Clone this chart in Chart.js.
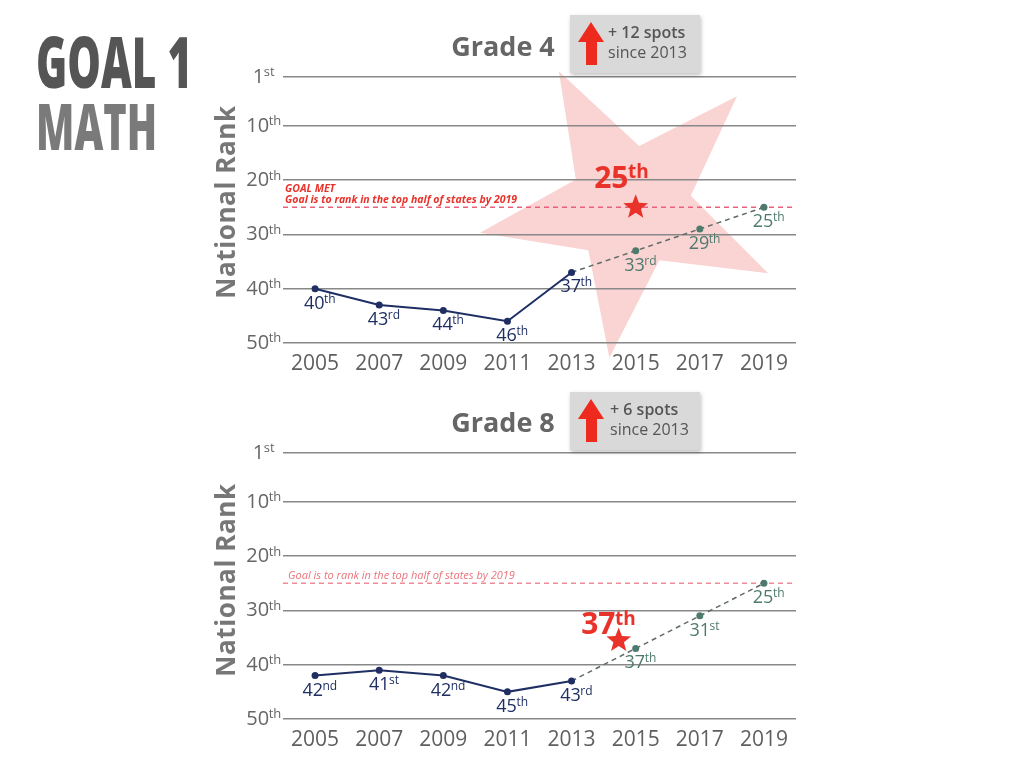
<!DOCTYPE html>
<html>
<head>
<meta charset="utf-8">
<script src="https://cdn.jsdelivr.net/npm/chart.js@4.4.1/dist/chart.umd.min.js"></script>
<style>
  body { margin: 0; background: #fff; font-family: "Open Sans", sans-serif; }
  #page { position: relative; width: 1024px; height: 768px; overflow: hidden; }
  canvas { position: absolute; left: 0; }
  .title { position: absolute; left: 36px; font-weight: 800; line-height: 1; white-space: nowrap; transform-origin: left top; display: inline-block; }
  .rank { position: absolute; width: 240px; text-align: center; font-weight: 700; font-size: 26px; color: #777; letter-spacing: 0.6px; transform: rotate(-90deg); line-height: 36px; }
  .grade { position: absolute; width: 160px; text-align: center; font-weight: 700; font-size: 27px; color: #666; line-height: 1; }
  .box { position: absolute; left: 570px; width: 130px; height: 58px; background: #d9d9d9; box-shadow: 1px 2px 4px rgba(0,0,0,0.25); }
  .box svg { position: absolute; left: 7px; top: 6px; }
  .box .l1 { position: absolute; left: 38px; top: 9px; font-size: 16px; font-weight: 600; color: #555; line-height: 1; white-space: nowrap; }
  .box .l2 { position: absolute; left: 38px; top: 29px; font-size: 16px; color: #555; line-height: 1; white-space: nowrap; }
</style>
</head>
<body>
<div id="page">
  <canvas id="grade4" width="1024" height="384" style="top:0"></canvas>
  <canvas id="grade8" width="1024" height="384" style="top:376px"></canvas>

  <div class="title" id="goal" style="top:26px;font-size:70px;color:#555">GOAL 1</div>
  <div class="title" id="math" style="top:94px;font-size:63px;color:#7a7a7a">MATH</div>

  <div class="rank" style="left:105px;top:184px">National Rank</div>
  <div class="rank" style="left:105px;top:562px">National Rank</div>

  <div class="grade" style="left:423px;top:32px">Grade 4</div>
  <div class="box" style="top:15px">
    <svg width="30" height="46"><polygon points="1,21 14,1 27,21 20,21 20,44 9,44 9,21" fill="#ee2a1f"/></svg>
    <div class="l1">+ 12 spots</div>
    <div class="l2">since 2013</div>
  </div>

  <div class="grade" style="left:423px;top:408px">Grade 8</div>
  <div class="box" style="top:392px">
    <svg width="30" height="46"><polygon points="1,21 14,1 27,21 20,21 20,44 9,44 9,21" fill="#ee2a1f"/></svg>
    <div class="l1" style="left:40px">+ 6 spots</div>
    <div class="l2" style="left:40px">since 2013</div>
  </div>
</div>

<script>
// chart values
const years = ["2005", "2007", "2009", "2011", "2013", "2015", "2017", "2019"];
const rankTicks = [1, 10, 20, 30, 40, 50];
const goalRank = 25;
const goalText = "Goal is to rank in the top half of states by 2019";

const grade4Actual = [40, 43, 44, 46, 37, null, null, null];
const grade4Recent = [null, null, null, null, 37, 33, 29, 25];
const grade4Highlight = { year: "2015", rank: 25 };

const grade8Actual = [42, 41, 42, 45, 43, null, null, null];
const grade8Recent = [null, null, null, null, 43, 37, 31, 25];
const grade8Highlight = { year: "2015", rank: 37 };

const NAVY = "#1f2f63";
const TEAL = "#4e7a6d";
const RED = "#e8322a";

// squeeze the big title words to their width
const fitWidth = (id, w) => {
  const el = document.getElementById(id);
  el.style.transform = "scaleX(" + (w / el.offsetWidth) + ")";
};
fitWidth("goal", 156);
fitWidth("math", 121);

const suffix = n => {
  const m = n % 100;
  if (m >= 11 && m <= 13) return "th";
  return { 1: "st", 2: "nd", 3: "rd" }[n % 10] || "th";
};

// number with a raised ordinal suffix, centred on x
const drawOrdinal = (ctx, n, x, y, size, color, weight) => {
  const num = String(n), suf = suffix(n);
  const small = Math.round(size * 0.64);
  ctx.font = weight + " " + size + "px 'Open Sans'";
  const w1 = ctx.measureText(num).width;
  ctx.font = weight + " " + small + "px 'Open Sans'";
  const w2 = ctx.measureText(suf).width;
  const x0 = x - (w1 + w2) / 2;
  ctx.fillStyle = color;
  ctx.textAlign = "left";
  ctx.textBaseline = "alphabetic";
  ctx.font = weight + " " + size + "px 'Open Sans'";
  ctx.fillText(num, x0, y);
  ctx.font = weight + " " + small + "px 'Open Sans'";
  ctx.fillText(suf, x0 + w1 - 0.5, y - size * 0.33);
};

const starPath = (ctx, cx, cy, R, r, startDeg) => {
  ctx.beginPath();
  for (let i = 0; i < 10; i++) {
    const a = (startDeg + i * 36) * Math.PI / 180;
    const rad = i % 2 ? r : R;
    ctx.lineTo(cx + rad * Math.cos(a), cy + rad * Math.sin(a));
  }
  ctx.closePath();
};

const panelPlugin = opt => ({
  id: "panel",
  beforeDraw(chart) {
    if (!opt.bigStar) return;
    const { ctx, scales: { x, y } } = chart;
    const px = x.getPixelForValue(years.indexOf(opt.highlight.year));
    const py = y.getPixelForValue(opt.highlight.rank);
    ctx.save();
    starPath(ctx, px - 5, py - 1, 153, 61, -118);
    ctx.fillStyle = "#fad3d3";
    ctx.fill();
    ctx.restore();
  },
  beforeDatasetsDraw(chart) {
    const { ctx, chartArea, scales: { y } } = chart;
    // rank tick labels
    rankTicks.forEach(v => {
      drawOrdinal(ctx, v, 264, y.getPixelForValue(v) + 6, 20, "#666", 400);
    });
    // goal line
    const gy = y.getPixelForValue(goalRank);
    ctx.save();
    ctx.strokeStyle = opt.goalColor;
    ctx.lineWidth = 1.5;
    ctx.setLineDash([5, 4]);
    ctx.beginPath();
    ctx.moveTo(chartArea.left, gy);
    ctx.lineTo(chartArea.right, gy);
    ctx.stroke();
    ctx.restore();
    ctx.fillStyle = opt.textColor;
    ctx.font = opt.textFont;
    ctx.textAlign = "left";
    ctx.textBaseline = "alphabetic";
    opt.lines.forEach((t, i) => {
      ctx.fillText(t, opt.textX, gy - 4 - (opt.lines.length - 1 - i) * 11);
    });
  },
  afterDatasetsDraw(chart) {
    const { ctx, scales: { x, y } } = chart;
    chart.data.datasets.forEach((ds, di) => {
      const meta = chart.getDatasetMeta(di);
      ds.data.forEach((v, i) => {
        if (v == null || (ds.labelSkip && ds.labelSkip[i])) return;
        const p = meta.data[i];
        drawOrdinal(ctx, v, p.x + 5, p.y + 20, 18, ds.labelColor, 400);
      });
    });
    // highlighted rank: red star and big label
    const h = opt.highlight;
    const px = x.getPixelForValue(years.indexOf(h.year)) + opt.starDx;
    const py = y.getPixelForValue(h.rank) + opt.starDy;
    starPath(ctx, px, py, 13, 5.5, -90);
    ctx.fillStyle = RED;
    ctx.fill();
    drawOrdinal(ctx, h.rank, px + opt.labelDx, py + opt.labelDy, 30, RED, 700);
  }
});

const makeChart = (id, actual, recent, opt) => new Chart(document.getElementById(id), {
  type: "line",
  data: {
    labels: years,
    datasets: [
      {
        data: recent,
        borderColor: "#5f6b68",
        borderWidth: 1.5,
        borderDash: [5, 4],
        pointRadius: recent.map((v, i) => (v != null && actual[i] == null ? 3.5 : 0)),
        pointBackgroundColor: TEAL,
        pointBorderWidth: 0,
        labelColor: TEAL,
        labelSkip: actual.map(v => v != null),
        order: 2
      },
      {
        data: actual,
        borderColor: NAVY,
        borderWidth: 2,
        pointRadius: 3.5,
        pointBackgroundColor: NAVY,
        pointBorderWidth: 0,
        labelColor: NAVY,
        order: 1
      }
    ]
  },
  options: {
    responsive: false,
    animation: false,
    events: [],
    layout: { padding: { top: 77, right: 228, left: 0, bottom: 0 } },
    plugins: { legend: { display: false }, tooltip: { enabled: false } },
    scales: {
      x: {
        offset: true,
        grid: { display: false, drawTicks: false, offset: true },
        border: { display: false },
        ticks: { color: "#5f5f5f", font: { family: "Open Sans", size: 21 }, padding: 8, maxRotation: 0 },
        afterFit: s => { s.height = 41; }
      },
      y: {
        reverse: true,
        min: 1,
        max: 50,
        afterBuildTicks: s => { s.ticks = rankTicks.map(v => ({ value: v })); },
        ticks: { display: false },
        grid: { color: "#888", lineWidth: 1.5, drawTicks: false },
        border: { display: false },
        afterFit: s => { s.width = 283; }
      }
    }
  },
  plugins: [panelPlugin(opt)]
});

makeChart("grade4", grade4Actual, grade4Recent, {
  bigStar: true,
  highlight: grade4Highlight,
  starDx: 0, starDy: 0,
  labelDx: -14, labelDy: -19,
  goalColor: "#e8607a",
  textColor: RED,
  textFont: "italic 700 10.5px 'Open Sans'",
  textX: 285,
  lines: ["GOAL MET", goalText]
});

makeChart("grade8", grade8Actual, grade8Recent, {
  bigStar: false,
  highlight: grade8Highlight,
  starDx: -17, starDy: -8,
  labelDx: -10, labelDy: -6,
  goalColor: "#ee8c98",
  textColor: "#e9747c",
  textFont: "italic 400 11px 'Open Sans'",
  textX: 288,
  lines: [goalText]
});
</script>
</body>
</html>
